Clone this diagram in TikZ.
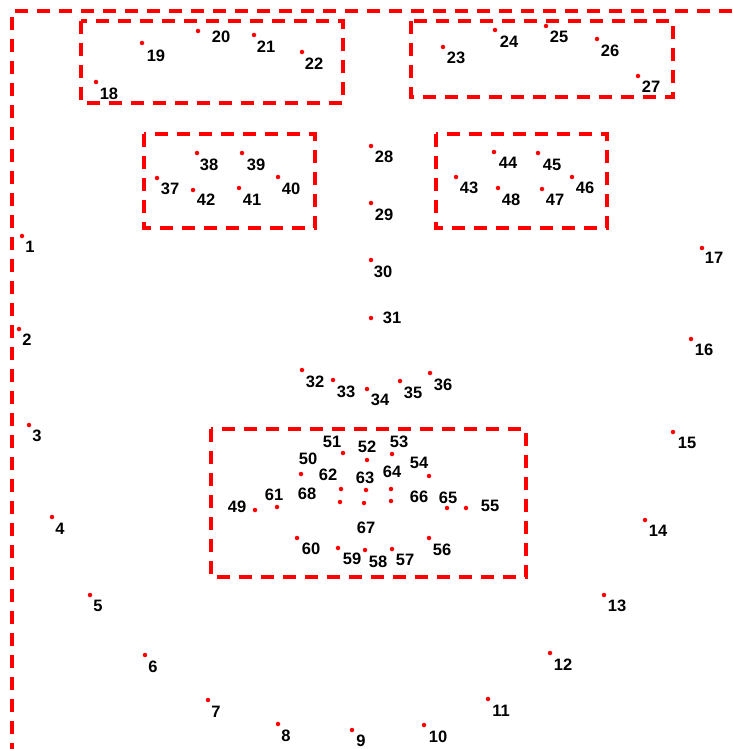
\documentclass[tikz,border=0pt]{standalone}
\usepackage{fontspec}
\setmainfont{Liberation Sans}
\usetikzlibrary{positioning}

\begin{document}
\begin{tikzpicture}[x=1pt, y=-1pt]
    \tikzstyle{mark dot} = [circle, fill=red, inner sep=0pt, minimum size=4.5pt];
    \tikzstyle{num} = [inner sep=0pt, font=\fontsize{16.5}{16.5}\selectfont\bfseries];
    \tikzstyle{region} = [draw=red, line width=3.3pt, dash pattern=on 13pt off 9pt];

    \useasboundingbox (0,0) rectangle (732,749);

    % outer frame
    \coordinate (corner) at (12,11);
    \coordinate (topend) at (732,11);
    \coordinate (leftend) at (12,749);
    \draw[region] (topend) -- (corner) -- (leftend);

    % regions
    \draw[region] (81,21) rectangle (343,103);
    \draw[region] (411,21) rectangle (673,97);
    \draw[region] (144,134) rectangle (315,228);
    \draw[region] (436,134) rectangle (607,228);
    \draw[region] (211,429) rectangle (526,577);

    % landmarks: number / dot x / dot y / label x / label y
    \foreach \n/\x/\y/\lx/\ly in {
        1/22/236/30/247, 2/19/329/27/340, 3/29/425/37/436, 4/52/517/60/529,
        5/90/595/98/606, 6/145/655/153/667, 7/208/700/216/712, 8/278/724/286/736,
        9/352/730/361/741, 10/424/725/438/737, 11/488/699/501/711, 12/550/653/563/665,
        13/604/595/617/606, 14/645/520/658/531, 15/673/432/687/443, 16/691/339/704/350,
        17/702/248/714/258,
        18/96/82/109/94, 19/142/43/156/56, 20/198/31/221/37, 21/254/35/266/47,
        22/302/52/314/64, 23/443/47/456/58, 24/495/30/509/42, 25/546/26/559/37,
        26/597/39/610/51, 27/638/76/651/87,
        28/371/146/384/157, 29/371/203/384/215, 30/371/260/383/272, 31/371/318/392/318,
        32/302/370/315/382, 33/333/380/346/392, 34/367/389/380/400, 35/400/381/413/393,
        36/430/373/443/385,
        37/157/178/170/189, 38/197/153/209/165, 39/242/153/256/165, 40/278/177/291/189,
        41/239/188/252/200, 42/193/190/206/200,
        43/456/177/469/188, 44/494/152/508/163, 45/538/153/552/165, 46/572/177/585/188,
        47/542/189/555/200, 48/498/188/511/200,
        49/255/510/237/507, 50/301/474/308/459, 51/343/453/332/442, 52/367/460/367/447,
        53/392/454/399/442, 54/429/476/419/463, 55/466/508/490/506, 56/429/538/442/550,
        57/392/549/405/560, 58/365/550/378/562, 59/338/548/352/559, 60/297/538/311/549,
        61/277/507/274/495, 62/341/489/328/475, 63/366/490/365/478, 64/391/489/392/472,
        65/447/508/448/498, 66/391/501/419/497, 67/364/503/366/528, 68/340/502/307/494}
    {
        \node[mark dot] (p\n) at (\x,\y) {};
        \node[num] (n\n) at (\lx,\ly) {\n};
    }
\end{tikzpicture}
\end{document}
